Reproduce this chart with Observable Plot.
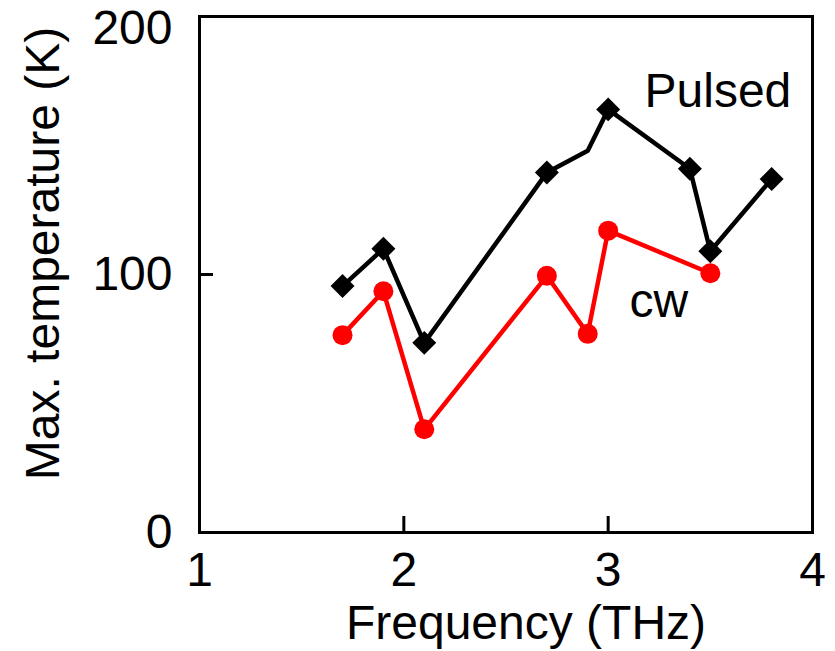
<!DOCTYPE html>
<html><head><meta charset="utf-8">
<script src="https://cdn.jsdelivr.net/npm/d3@7"></script>
<script src="https://cdn.jsdelivr.net/npm/@observablehq/plot@0.6"></script>
<style>html,body{margin:0;padding:0;background:#fff} svg{display:block}</style>
</head><body><div id="chart"></div>
<script>
// Data
const pulsedFreq   = [1.7, 1.9, 2.1, 2.7, 2.9, 3.0, 3.4, 3.5, 3.8];
const pulsedTemp   = [95.5, 110, 73.5, 139.5, 148, 164, 141, 109, 137];
const pulsedMarked = [true, true, true, true, false, true, true, true, true];
const cwFreq = [1.7, 1.9, 2.1, 2.7, 2.9, 3.0, 3.5];
const cwTemp = [76.5, 93.5, 40, 99.5, 77, 117, 100.5];

const xTicks = [1, 2, 3, 4];
const xInnerTicks = [2, 3];
const yTicksLow = [0, 100];
const yTicksTop = [200];
const yInnerTicks = [100];
const xLabel = "Frequency (THz)";
const yLabel = "Max. temperature (K)";
const seriesLabels = ["Pulsed", "cw"];
const seriesLabelX = [3.178, 3.105];
const seriesLabelY = [171, 89.5];

const pulsed = pulsedFreq.map((f, i) => ({f, t: pulsedTemp[i], m: pulsedMarked[i]}));
const cw = cwFreq.map((f, i) => ({f, t: cwTemp[i]}));
const labels = seriesLabels.map((s, i) => ({s, x: seriesLabelX[i], y: seriesLabelY[i]}));

const plot = Plot.plot({
  width: 835,
  height: 651,
  marginLeft: 199,
  marginRight: 23,
  marginTop: 16,
  marginBottom: 119,
  style: {fontFamily: "'Liberation Sans', Arial, sans-serif", fontSize: "48px", color: "black", background: "white"},
  x: {domain: [1, 4], label: null},
  y: {domain: [0, 200], label: null},
  marks: [
    Plot.frame({stroke: "black", strokeWidth: 3}),
    Plot.ruleX(xInnerTicks, {x: d => d, y1: 0, y2: 0, insetTop: -16, stroke: "black", strokeWidth: 3}),
    Plot.ruleY(yInnerTicks, {y: d => d, x1: 1, x2: 1, insetRight: -14, stroke: "black", strokeWidth: 3}),
    Plot.axisX(xTicks, {tickSize: 0, tickPadding: 19, tickFormat: d3.format("d"), label: null, fill: "black"}),
    Plot.axisY(yTicksLow, {tickSize: 0, tickPadding: 27, tickFormat: d3.format("d"), label: null, fill: "black"}),
    Plot.axisY(yTicksTop, {tickSize: 0, tickPadding: 27, tickFormat: d3.format("d"), dy: 12, label: null, fill: "black"}),
    Plot.text([xLabel], {text: d => d, frameAnchor: "bottom", textAnchor: "middle", lineAnchor: "bottom", dx: 20, dy: 106, fill: "black"}),
    Plot.text([yLabel], {text: d => d, frameAnchor: "left", textAnchor: "middle", lineAnchor: "bottom", rotate: -90, dx: -141, dy: -21, fill: "black"}),
    Plot.line(cw, {x: d => d.f, y: d => d.t, stroke: "#ff0000", strokeWidth: 4.5}),
    Plot.dot(cw, {x: d => d.f, y: d => d.t, r: 10, fill: "#ff0000", stroke: "none", symbol: "circle"}),
    Plot.line(pulsed, {x: d => d.f, y: d => d.t, stroke: "black", strokeWidth: 4.5}),
    Plot.dot(pulsed.filter(d => d.m), {x: d => d.f, y: d => d.t, r: 10.8, fill: "black", stroke: "none", symbol: "diamond2"}),
    Plot.text(labels, {x: d => d.x, y: d => d.y, text: d => d.s, textAnchor: "start", fill: "black"})
  ]
});
document.getElementById("chart").appendChild(plot);
</script>
</body></html>
